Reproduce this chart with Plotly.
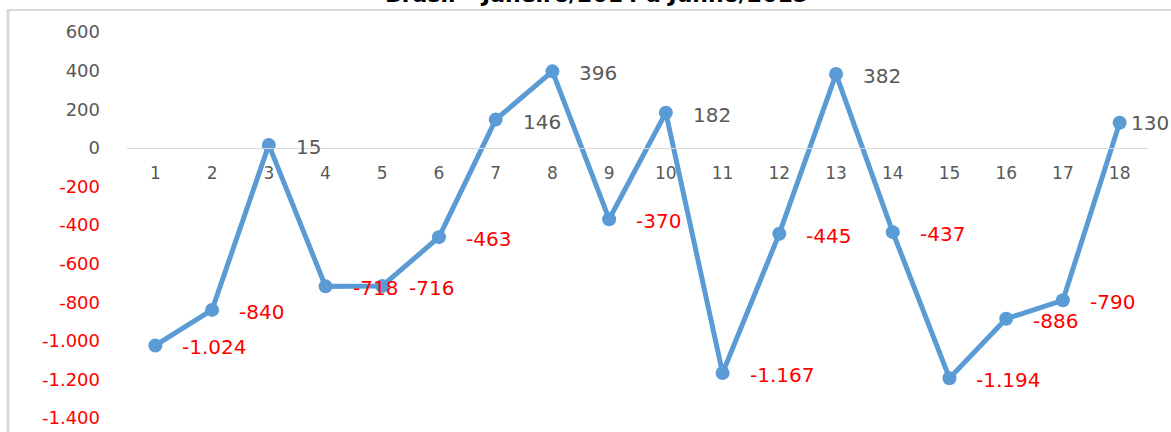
import plotly.graph_objects as go

# Data
months = list(range(1, 19))
values = [-1024, -840, 15, -718, -716, -463, 146, 396, -370, 182,
          -1167, -445, 382, -437, -1194, -886, -790, 130]
y_ticks = [600, 400, 200, 0, -200, -400, -600, -800, -1000, -1200, -1400]
title_text = "Brasil – Janeiro/2014 a Junho/2015"

GRAY = "#595959"
RED = "#FF0000"
BLUE = "#5B9BD5"


def fmt(v):
    return f"{v:,}".replace(",", ".")


fig = go.Figure()
fig.add_trace(go.Scatter(
    x=months, y=values, mode="lines+markers",
    line=dict(color=BLUE, width=5),
    marker=dict(color=BLUE, size=14),
    hoverinfo="skip",
))

annotations = []
n = len(months)
for i, (m, v) in enumerate(zip(months, values)):
    last = i == n - 1
    annotations.append(dict(
        x=m, y=v, xref="x", yref="y", text=fmt(v), showarrow=False,
        xanchor="left", yanchor="middle",
        xshift=9 if last else 25, yshift=0 if last else -2,
        font=dict(family="DejaVu Sans", size=20, color=RED if v < 0 else GRAY),
    ))

# Title (cut at the top of the image)
annotations.append(dict(
    x=(596 - 127) / 1021, xref="paper", y=1 + (32 + 6) / 386, yref="paper",
    text=f"<b>{title_text}</b>",
    showarrow=False, xanchor="center", yanchor="middle",
    font=dict(family="DejaVu Sans", size=22, color="#000000"),
))

ticktext = [f"<span style='color:{RED if t < 0 else GRAY}'>{fmt(t)}</span>" for t in y_ticks]

fig.update_layout(
    width=1171, height=432,
    margin=dict(l=127, r=23, t=32, b=14, autoexpand=False),
    paper_bgcolor="white", plot_bgcolor="white",
    showlegend=False,
    font=dict(family="DejaVu Sans", color=GRAY),
    annotations=annotations,
    xaxis=dict(
        range=[0.5, 18.5], tickvals=months, ticktext=[str(m) for m in months],
        showgrid=False, zeroline=False, anchor="free", position=0.7,
        showline=True, linecolor="#D9D9D9", linewidth=1,
        ticks="", ticklabelstandoff=10, automargin=False,
        tickfont=dict(family="DejaVu Sans", size=17, color=GRAY),
    ),
    yaxis=dict(
        range=[-1400, 600], tickvals=y_ticks, ticktext=ticktext,
        showgrid=False, zeroline=False, showline=False,
        ticks="", ticklabelstandoff=26, automargin=False,
        tickfont=dict(family="DejaVu Sans", size=18, color=GRAY),
    ),
    shapes=[
        dict(type="line", xref="paper", yref="paper",
             x0=(7 - 127) / 1021, x1=1 + 23 / 1021,
             y0=1 + 22 / 386, y1=1 + 22 / 386,
             line=dict(color="#D9D9D9", width=2)),
        dict(type="line", xref="paper", yref="paper",
             x0=(8 - 127) / 1021, x1=(8 - 127) / 1021,
             y0=-14 / 386 - 0.01, y1=1 + 22 / 386,
             line=dict(color="#D9D9D9", width=3)),
    ],
)

fig.write_html("out.html")
